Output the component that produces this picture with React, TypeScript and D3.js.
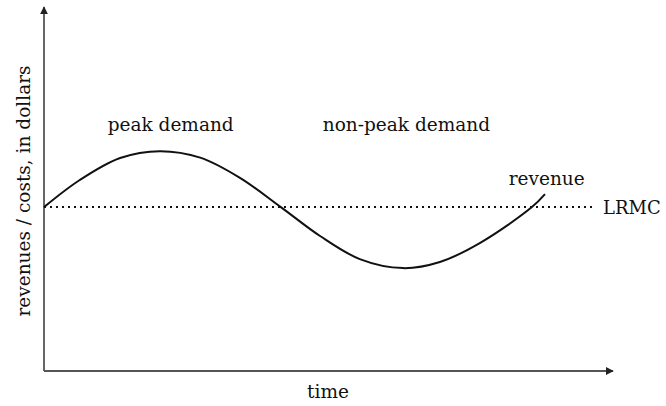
import React from "react";
import * as d3 from "d3";

// curve readings (time, revenue) in arbitrary units, 0..100 on both axes
const time = [0, 6.3, 13.4, 20.4, 27.5, 34.5, 41.7, 48.6, 55.6, 63.2, 69.7, 76.8, 85.9, 88.2];
const revenue = [45.4, 52.9, 59.0, 60.9, 59.1, 53.5, 45.4, 37.4, 31.0, 28.5, 30.2, 35.5, 45.4, 49.0];
const lrmc = 45.4;
const lrmcEnd = 97;

const labels = [
  { text: "peak demand", t: 22.3, v: 66.5 },
  { text: "non-peak demand", t: 63.8, v: 66.5 },
  { text: "revenue", t: 88.5, v: 51.5 },
];

const width = 666;
const height = 406;
const margin = { left: 44, right: 54, top: 10, bottom: 35 };
const font = "'DejaVu Serif', serif";

const App: React.FC = () => {
  const x = d3.scaleLinear().domain([0, 100]).range([margin.left, width - margin.right]);
  const y = d3.scaleLinear().domain([0, 100]).range([height - margin.bottom, margin.top]);

  const line = d3
    .line<number>()
    .x((_, i) => x(time[i]))
    .y((d) => y(d))
    .curve(d3.curveCatmullRom.alpha(0.5));

  const x0 = x(0);
  const y0 = y(0);

  return (
    <svg
      width={width}
      height={height}
      style={{ position: "absolute", left: 0, top: 0 }}
      fontFamily={font}
      fontSize={18.5}
    >
      <defs>
        <marker id="arrow" viewBox="0 0 10 10" refX="9" refY="5" markerWidth="8" markerHeight="8" markerUnits="userSpaceOnUse" orient="auto">
          <path d="M0,0 L10,5 L0,10 Z" fill="#222" />
        </marker>
      </defs>

      {/* axes */}
      <line x1={x0} y1={y0} x2={x0} y2={y(100) - 3} stroke="#555" strokeWidth={1.8} markerEnd="url(#arrow)" />
      <line x1={x0} y1={y0} x2={x(100) + 1} y2={y0} stroke="#555" strokeWidth={1.8} markerEnd="url(#arrow)" />

      {/* LRMC */}
      <line
        x1={x0}
        x2={x(lrmcEnd)}
        y1={y(lrmc)}
        y2={y(lrmc)}
        stroke="#111"
        strokeWidth={2}
        strokeDasharray="2,4"
      />
      <text x={x(lrmcEnd) + 8} y={y(lrmc) + 7} fill="#111" fontSize={18}>LRMC</text>

      {/* revenue curve */}
      <path d={line(revenue) || ""} fill="none" stroke="#111" strokeWidth={2} />

      {labels.map((l) => (
        <text key={l.text} x={x(l.t)} y={y(l.v)} textAnchor="middle" fill="#111">
          {l.text}
        </text>
      ))}

      <text x={x(50)} y={398} textAnchor="middle" fill="#111">time</text>
      <text
        transform={`translate(${23},${191}) rotate(-90)`}
        textAnchor="middle"
        dominantBaseline="central"
        fill="#111"
      >
        revenues / costs, in dollars
      </text>
    </svg>
  );
};

export default App;
